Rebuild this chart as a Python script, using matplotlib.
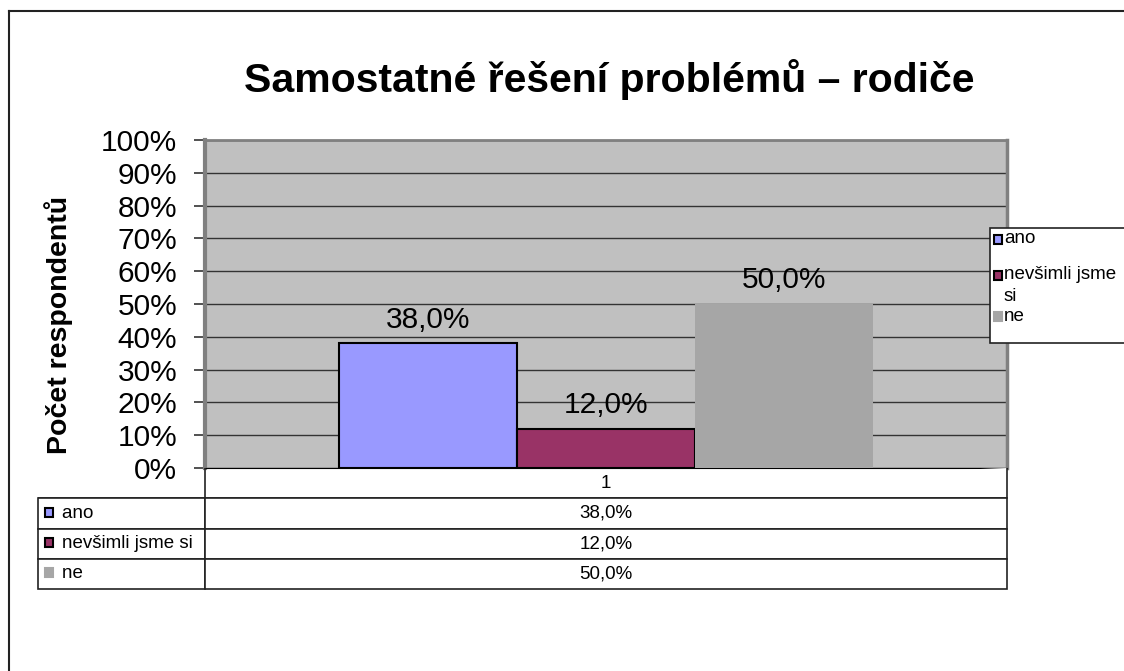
import matplotlib.pyplot as plt
import matplotlib
from matplotlib.patches import Rectangle
from matplotlib.lines import Line2D

matplotlib.rcParams['font.family'] = ['Liberation Sans', 'DejaVu Sans']

# data
categories = ['ano', 'nevšimli jsme si', 'ne']
legend_labels = ['ano', 'nevšimli jsme\nsi', 'ne']
values = [38.0, 12.0, 50.0]
colors = ['#9999FF', '#993366', '#A6A6A6']
edges = ['black', 'black', 'none']
yticks = list(range(0, 101, 10))

W, H = 1124, 671
fig = plt.figure(figsize=(W / 100, H / 100), dpi=100)


def fx(px):
    return px / W


def fy(py):
    return 1 - py / H


# outer frame (left + top only visible)
fig.add_artist(Line2D([fx(9), fx(9)], [fy(11), 0], color='#222222', lw=1.5))
fig.add_artist(Line2D([fx(9), 1], [fy(11), fy(11)], color='#222222', lw=1.5))

fig.text(fx(609), fy(80), 'Samostatné řešení problémů – rodiče',
         ha='center', va='center', fontsize=29.5, fontweight='bold')

ax = fig.add_axes([fx(205), fy(468), (1007 - 205) / W, (468 - 140) / H])
ax.set_facecolor('#C0C0C0')
ax.set_ylim(0, 100)
ax.set_xlim(0.5, 1.5)
ax.set_yticks(yticks)
ax.set_yticklabels(['{}%'.format(t) for t in yticks], fontsize=21.5)
ax.set_xticks([])
ax.yaxis.grid(True, color='#333333', lw=1)
ax.set_axisbelow(True)
ax.tick_params(axis='y', length=8, width=1.2, color='#333333', pad=12)
ax.set_ylabel('Počet respondentů', fontsize=20.5, fontweight='bold')
ax.yaxis.set_label_coords(-0.164, 0.436)
for s in ['left', 'top', 'right']:
    ax.spines[s].set_color('#808080')
ax.spines['left'].set_linewidth(3)
ax.spines['right'].set_linewidth(2.5)
ax.spines['top'].set_linewidth(2)
ax.spines['bottom'].set_color('black')

bw = 0.2222
for i, (v, c, e) in enumerate(zip(values, colors, edges)):
    xc = 1 + (i - 1) * bw
    ax.bar(xc, v, width=bw, color=c, edgecolor=e, lw=1.5, zorder=3)
    ax.text(xc, v + 3, '{:.1f}%'.format(v).replace('.', ','),
            ha='center', va='bottom', fontsize=21.5, zorder=4)

# data table
cell_text = [[lab, '{:.1f}%'.format(v).replace('.', ',')] for lab, v in zip(categories, values)]
tab_ax = fig.add_axes([fx(38), fy(589), (1007 - 38) / W, (589 - 468) / H])
tab_ax.axis('off')
tbl = tab_ax.table(cellText=cell_text, colLabels=['', '1'],
                   colWidths=[167 / 969, 802 / 969], bbox=[0, 0, 1, 1],
                   cellLoc='center')
tbl.auto_set_font_size(False)
for (r, c), cell in tbl.get_celld().items():
    cell.set_fontsize(13.5)
    cell.set_linewidth(1.2)
    cell.set_edgecolor('#222222')
    if r == 0 and c == 0:
        cell.visible_edges = 'B'
    elif r == 0:
        cell.visible_edges = 'LRB'
    if c == 0 and r > 0:
        cell.get_text().set_text('    ' + cell.get_text().get_text())
        cell._loc = 'left'
        cell.get_text().set_ha('left')
        cell.PAD = 0.02

# markers in table
row_y = [512, 542, 572]
for yc, c, e in zip(row_y, colors, edges):
    fig.add_artist(Rectangle((fx(45), fy(yc + 4.5)), 8 / W, 9 / H,
                             facecolor=c, edgecolor=e if e != 'none' else c,
                             lw=1.5, transform=fig.transFigure))

# legend
fig.add_artist(Rectangle((fx(990), fy(343)), 150 / W, (343 - 228) / H,
                         facecolor='white', edgecolor='#222222', lw=1.2,
                         transform=fig.transFigure))
leg_y = [239, 275, 316]
for yc, lab, c, e in zip(leg_y, legend_labels, colors, edges):
    fig.add_artist(Rectangle((fx(994), fy(yc + 4.5)), 8 / W, 9 / H,
                             facecolor=c, edgecolor=e if e != 'none' else c,
                             lw=1.5, transform=fig.transFigure))
    fig.text(fx(1004), fy(yc - 9) if '\n' in lab else fy(yc), lab, ha='left',
             va='top' if '\n' in lab else 'center',
             fontsize=13.5, linespacing=1.4)

fig.savefig('out.png', dpi=100)
